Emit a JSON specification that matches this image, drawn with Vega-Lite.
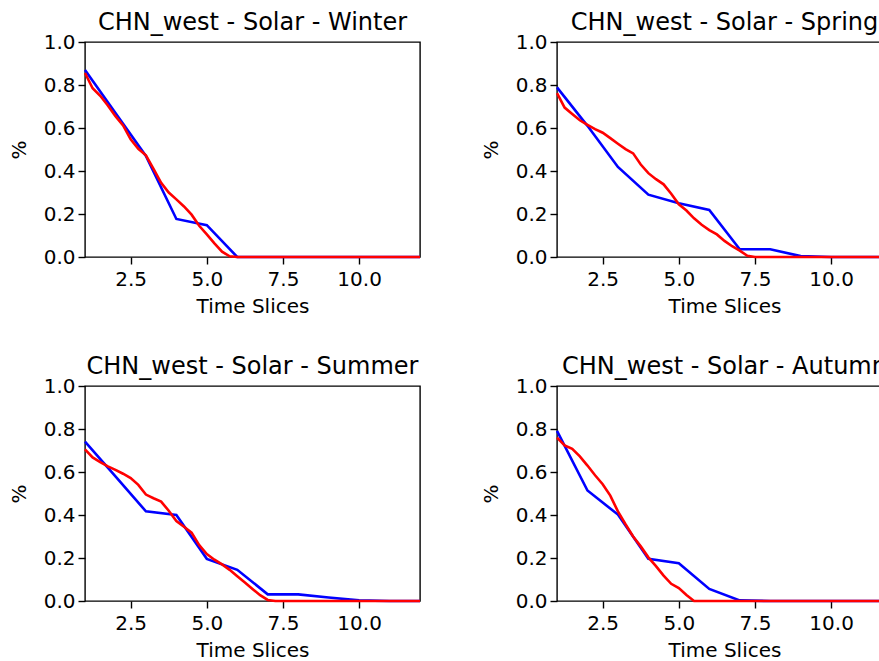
{
  "$schema": "https://vega.github.io/schema/vega-lite/v6.json",
  "padding": {"left": 8, "top": 10, "right": 0, "bottom": 0},
  "background": "white",
  "data": {"values": [
    {"p":"Winter","s":"b","x":1,"y":0.87},{"p":"Winter","s":"b","x":2,"y":0.67},{"p":"Winter","s":"b","x":3,"y":0.47},{"p":"Winter","s":"b","x":4,"y":0.177},{"p":"Winter","s":"b","x":5,"y":0.148},{"p":"Winter","s":"b","x":6,"y":0},{"p":"Winter","s":"b","x":7,"y":0},{"p":"Winter","s":"b","x":8,"y":0},{"p":"Winter","s":"b","x":9,"y":0},{"p":"Winter","s":"b","x":10,"y":0},{"p":"Winter","s":"b","x":11,"y":0},{"p":"Winter","s":"b","x":12,"y":0},
    {"p":"Winter","s":"r","x":1,"y":0.856},{"p":"Winter","s":"r","x":1.25,"y":0.785},{"p":"Winter","s":"r","x":1.5,"y":0.75},{"p":"Winter","s":"r","x":1.75,"y":0.705},{"p":"Winter","s":"r","x":2,"y":0.655},{"p":"Winter","s":"r","x":2.25,"y":0.612},{"p":"Winter","s":"r","x":2.5,"y":0.547},{"p":"Winter","s":"r","x":2.75,"y":0.503},{"p":"Winter","s":"r","x":3,"y":0.473},{"p":"Winter","s":"r","x":3.25,"y":0.41},{"p":"Winter","s":"r","x":3.5,"y":0.345},{"p":"Winter","s":"r","x":3.75,"y":0.3},{"p":"Winter","s":"r","x":4,"y":0.268},{"p":"Winter","s":"r","x":4.25,"y":0.235},{"p":"Winter","s":"r","x":4.5,"y":0.197},{"p":"Winter","s":"r","x":4.75,"y":0.145},{"p":"Winter","s":"r","x":5,"y":0.105},{"p":"Winter","s":"r","x":5.25,"y":0.063},{"p":"Winter","s":"r","x":5.5,"y":0.025},{"p":"Winter","s":"r","x":5.75,"y":0.003},{"p":"Winter","s":"r","x":6,"y":0},{"p":"Winter","s":"r","x":7,"y":0},{"p":"Winter","s":"r","x":8,"y":0},{"p":"Winter","s":"r","x":9,"y":0},{"p":"Winter","s":"r","x":10,"y":0},{"p":"Winter","s":"r","x":11,"y":0},{"p":"Winter","s":"r","x":12,"y":0},
    {"p":"Spring","s":"b","x":1,"y":0.789},{"p":"Spring","s":"b","x":2,"y":0.61},{"p":"Spring","s":"b","x":3,"y":0.419},{"p":"Spring","s":"b","x":4,"y":0.29},{"p":"Spring","s":"b","x":5,"y":0.25},{"p":"Spring","s":"b","x":6,"y":0.219},{"p":"Spring","s":"b","x":7,"y":0.036},{"p":"Spring","s":"b","x":8,"y":0.036},{"p":"Spring","s":"b","x":9,"y":0.004},{"p":"Spring","s":"b","x":10,"y":0},{"p":"Spring","s":"b","x":11,"y":0},{"p":"Spring","s":"b","x":12,"y":0},
    {"p":"Spring","s":"r","x":1,"y":0.762},{"p":"Spring","s":"r","x":1.25,"y":0.695},{"p":"Spring","s":"r","x":1.5,"y":0.665},{"p":"Spring","s":"r","x":1.75,"y":0.636},{"p":"Spring","s":"r","x":2,"y":0.615},{"p":"Spring","s":"r","x":2.25,"y":0.595},{"p":"Spring","s":"r","x":2.5,"y":0.578},{"p":"Spring","s":"r","x":2.75,"y":0.553},{"p":"Spring","s":"r","x":3,"y":0.527},{"p":"Spring","s":"r","x":3.25,"y":0.502},{"p":"Spring","s":"r","x":3.5,"y":0.482},{"p":"Spring","s":"r","x":3.75,"y":0.43},{"p":"Spring","s":"r","x":4,"y":0.39},{"p":"Spring","s":"r","x":4.25,"y":0.362},{"p":"Spring","s":"r","x":4.5,"y":0.338},{"p":"Spring","s":"r","x":4.75,"y":0.294},{"p":"Spring","s":"r","x":5,"y":0.245},{"p":"Spring","s":"r","x":5.25,"y":0.216},{"p":"Spring","s":"r","x":5.5,"y":0.18},{"p":"Spring","s":"r","x":5.75,"y":0.15},{"p":"Spring","s":"r","x":6,"y":0.125},{"p":"Spring","s":"r","x":6.25,"y":0.105},{"p":"Spring","s":"r","x":6.5,"y":0.075},{"p":"Spring","s":"r","x":6.75,"y":0.05},{"p":"Spring","s":"r","x":7,"y":0.03},{"p":"Spring","s":"r","x":7.25,"y":0.006},{"p":"Spring","s":"r","x":7.5,"y":0},{"p":"Spring","s":"r","x":8,"y":0},{"p":"Spring","s":"r","x":9,"y":0},{"p":"Spring","s":"r","x":10,"y":0},{"p":"Spring","s":"r","x":11,"y":0},{"p":"Spring","s":"r","x":12,"y":0},
    {"p":"Summer","s":"b","x":1,"y":0.741},{"p":"Summer","s":"b","x":2,"y":0.58},{"p":"Summer","s":"b","x":3,"y":0.417},{"p":"Summer","s":"b","x":4,"y":0.4},{"p":"Summer","s":"b","x":5,"y":0.196},{"p":"Summer","s":"b","x":6,"y":0.145},{"p":"Summer","s":"b","x":7,"y":0.031},{"p":"Summer","s":"b","x":8,"y":0.031},{"p":"Summer","s":"b","x":9,"y":0.016},{"p":"Summer","s":"b","x":10,"y":0.003},{"p":"Summer","s":"b","x":11,"y":0},{"p":"Summer","s":"b","x":12,"y":0},
    {"p":"Summer","s":"r","x":1,"y":0.705},{"p":"Summer","s":"r","x":1.25,"y":0.668},{"p":"Summer","s":"r","x":1.5,"y":0.646},{"p":"Summer","s":"r","x":1.75,"y":0.626},{"p":"Summer","s":"r","x":2,"y":0.61},{"p":"Summer","s":"r","x":2.25,"y":0.592},{"p":"Summer","s":"r","x":2.5,"y":0.572},{"p":"Summer","s":"r","x":2.75,"y":0.54},{"p":"Summer","s":"r","x":3,"y":0.495},{"p":"Summer","s":"r","x":3.25,"y":0.478},{"p":"Summer","s":"r","x":3.5,"y":0.462},{"p":"Summer","s":"r","x":3.75,"y":0.42},{"p":"Summer","s":"r","x":4,"y":0.372},{"p":"Summer","s":"r","x":4.25,"y":0.345},{"p":"Summer","s":"r","x":4.5,"y":0.318},{"p":"Summer","s":"r","x":4.75,"y":0.26},{"p":"Summer","s":"r","x":5,"y":0.218},{"p":"Summer","s":"r","x":5.25,"y":0.192},{"p":"Summer","s":"r","x":5.5,"y":0.17},{"p":"Summer","s":"r","x":5.75,"y":0.145},{"p":"Summer","s":"r","x":6,"y":0.115},{"p":"Summer","s":"r","x":6.25,"y":0.086},{"p":"Summer","s":"r","x":6.5,"y":0.056},{"p":"Summer","s":"r","x":6.75,"y":0.027},{"p":"Summer","s":"r","x":7,"y":0.005},{"p":"Summer","s":"r","x":7.25,"y":0},{"p":"Summer","s":"r","x":8,"y":0},{"p":"Summer","s":"r","x":9,"y":0},{"p":"Summer","s":"r","x":10,"y":0},{"p":"Summer","s":"r","x":11,"y":0},{"p":"Summer","s":"r","x":12,"y":0},
    {"p":"Autumn","s":"b","x":1,"y":0.791},{"p":"Autumn","s":"b","x":2,"y":0.514},{"p":"Autumn","s":"b","x":3,"y":0.402},{"p":"Autumn","s":"b","x":4,"y":0.196},{"p":"Autumn","s":"b","x":5,"y":0.176},{"p":"Autumn","s":"b","x":6,"y":0.056},{"p":"Autumn","s":"b","x":7,"y":0.003},{"p":"Autumn","s":"b","x":8,"y":0},{"p":"Autumn","s":"b","x":9,"y":0},{"p":"Autumn","s":"b","x":10,"y":0},{"p":"Autumn","s":"b","x":11,"y":0},{"p":"Autumn","s":"b","x":12,"y":0},
    {"p":"Autumn","s":"r","x":1,"y":0.76},{"p":"Autumn","s":"r","x":1.25,"y":0.724},{"p":"Autumn","s":"r","x":1.5,"y":0.708},{"p":"Autumn","s":"r","x":1.75,"y":0.673},{"p":"Autumn","s":"r","x":2,"y":0.63},{"p":"Autumn","s":"r","x":2.25,"y":0.585},{"p":"Autumn","s":"r","x":2.5,"y":0.543},{"p":"Autumn","s":"r","x":2.75,"y":0.49},{"p":"Autumn","s":"r","x":3,"y":0.417},{"p":"Autumn","s":"r","x":3.25,"y":0.357},{"p":"Autumn","s":"r","x":3.5,"y":0.3},{"p":"Autumn","s":"r","x":3.75,"y":0.254},{"p":"Autumn","s":"r","x":4,"y":0.203},{"p":"Autumn","s":"r","x":4.25,"y":0.162},{"p":"Autumn","s":"r","x":4.5,"y":0.118},{"p":"Autumn","s":"r","x":4.75,"y":0.08},{"p":"Autumn","s":"r","x":5,"y":0.06},{"p":"Autumn","s":"r","x":5.25,"y":0.028},{"p":"Autumn","s":"r","x":5.5,"y":0},{"p":"Autumn","s":"r","x":6,"y":0},{"p":"Autumn","s":"r","x":7,"y":0},{"p":"Autumn","s":"r","x":8,"y":0},{"p":"Autumn","s":"r","x":9,"y":0},{"p":"Autumn","s":"r","x":10,"y":0},{"p":"Autumn","s":"r","x":11,"y":0},{"p":"Autumn","s":"r","x":12,"y":0}
  ]},
  "columns": 2,
  "spacing": {"row": 37, "column": 54},
  "concat": [
    {"title": "CHN_west - Solar - Winter", "width": 335, "height": 215,
     "encoding": {
       "x": {"field": "x", "type": "quantitative", "scale": {"domain": [1, 12], "nice": false, "zero": false}, "axis": {"values": [2.5, 5, 7.5, 10], "format": ".1f", "title": "Time Slices"}},
       "y": {"field": "y", "type": "quantitative", "scale": {"domain": [0, 1], "nice": false}, "axis": {"values": [0, 0.2, 0.4, 0.6, 0.8, 1.0], "format": ".1f", "title": "%"}}
     },
     "layer": [
       {"transform": [{"filter": "datum.p === 'Winter' && datum.s === 'b'"}], "mark": {"type": "line", "color": "#0000ff", "strokeWidth": 2.6}},
       {"transform": [{"filter": "datum.p === 'Winter' && datum.s === 'r'"}], "mark": {"type": "line", "color": "#ff0000", "strokeWidth": 2.6}}
     ]},
    {"title": "CHN_west - Solar - Spring", "width": 335, "height": 215,
     "encoding": {
       "x": {"field": "x", "type": "quantitative", "scale": {"domain": [1, 12], "nice": false, "zero": false}, "axis": {"values": [2.5, 5, 7.5, 10], "format": ".1f", "title": "Time Slices"}},
       "y": {"field": "y", "type": "quantitative", "scale": {"domain": [0, 1], "nice": false}, "axis": {"values": [0, 0.2, 0.4, 0.6, 0.8, 1.0], "format": ".1f", "title": "%"}}
     },
     "layer": [
       {"transform": [{"filter": "datum.p === 'Spring' && datum.s === 'b'"}], "mark": {"type": "line", "color": "#0000ff", "strokeWidth": 2.6}},
       {"transform": [{"filter": "datum.p === 'Spring' && datum.s === 'r'"}], "mark": {"type": "line", "color": "#ff0000", "strokeWidth": 2.6}}
     ]},
    {"title": "CHN_west - Solar - Summer", "width": 335, "height": 215,
     "encoding": {
       "x": {"field": "x", "type": "quantitative", "scale": {"domain": [1, 12], "nice": false, "zero": false}, "axis": {"values": [2.5, 5, 7.5, 10], "format": ".1f", "title": "Time Slices"}},
       "y": {"field": "y", "type": "quantitative", "scale": {"domain": [0, 1], "nice": false}, "axis": {"values": [0, 0.2, 0.4, 0.6, 0.8, 1.0], "format": ".1f", "title": "%"}}
     },
     "layer": [
       {"transform": [{"filter": "datum.p === 'Summer' && datum.s === 'b'"}], "mark": {"type": "line", "color": "#0000ff", "strokeWidth": 2.6}},
       {"transform": [{"filter": "datum.p === 'Summer' && datum.s === 'r'"}], "mark": {"type": "line", "color": "#ff0000", "strokeWidth": 2.6}}
     ]},
    {"title": "CHN_west - Solar - Autumn", "width": 335, "height": 215,
     "encoding": {
       "x": {"field": "x", "type": "quantitative", "scale": {"domain": [1, 12], "nice": false, "zero": false}, "axis": {"values": [2.5, 5, 7.5, 10], "format": ".1f", "title": "Time Slices"}},
       "y": {"field": "y", "type": "quantitative", "scale": {"domain": [0, 1], "nice": false}, "axis": {"values": [0, 0.2, 0.4, 0.6, 0.8, 1.0], "format": ".1f", "title": "%"}}
     },
     "layer": [
       {"transform": [{"filter": "datum.p === 'Autumn' && datum.s === 'b'"}], "mark": {"type": "line", "color": "#0000ff", "strokeWidth": 2.6}},
       {"transform": [{"filter": "datum.p === 'Autumn' && datum.s === 'r'"}], "mark": {"type": "line", "color": "#ff0000", "strokeWidth": 2.6}}
     ]}
  ],
  "config": {
    "font": "DejaVu Sans",
    "view": {"stroke": "#000000", "strokeWidth": 1.4},
    "axis": {
      "grid": false, "domain": false,
      "labelFont": "DejaVu Sans", "labelFontSize": 20, "labelColor": "#000000",
      "titleFont": "DejaVu Sans", "titleFontSize": 20, "titleColor": "#000000", "titleFontWeight": "normal",
      "tickColor": "#000000", "tickSize": 7, "tickWidth": 1.4, "labelPadding": 3,
      "labelOverlap": false, "labelFlush": false
    },
    "axisX": {"labelPadding": 5, "titlePadding": 7},
    "axisY": {"titlePadding": 14},
    "title": {"font": "DejaVu Sans", "fontSize": 24, "fontWeight": "normal", "color": "#000000", "offset": -3, "anchor": "middle"}
  }
}
